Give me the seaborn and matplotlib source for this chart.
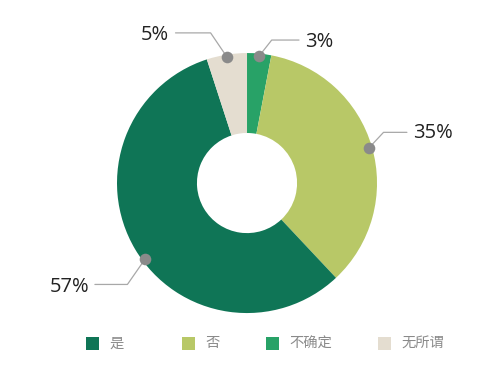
import matplotlib
matplotlib.use("Agg")
import matplotlib.pyplot as plt
from matplotlib.patches import Rectangle
import numpy as np
import seaborn as sns

# Survey answers and their shares (%)
categories = ["是", "否", "不确定", "无所谓"]
shares = [57, 35, 3, 5]
colors = ["#0f7556", "#b8c867", "#28a267", "#e4ddd0"]

# Wedges drawn clockwise from 12 o'clock in this order
draw_order = ["不确定", "否", "是", "无所谓"]

# Leader lines: dot position along the wedge (0..1), elbow / end points and
# text anchors in data units (outer radius = 1)
leaders = {
    "不确定": dict(pos=0.5, elbow=(0.19, 1.10), end=(0.40, 1.10), text=(0.45, 1.085), ha="left"),
    "否": dict(pos=0.5, elbow=(1.05, 0.39), end=(1.23, 0.39), text=(1.28, 0.385), ha="left"),
    "是": dict(pos=0.47, elbow=(-0.92, -0.78), end=(-1.17, -0.78), text=(-1.21, -0.80), ha="right"),
    "无所谓": dict(pos=0.5, elbow=(-0.28, 1.155), end=(-0.55, 1.155), text=(-0.60, 1.14), ha="right"),
}

# Legend entry left edges in figure pixels
legend_x = [86, 182, 266, 378]

sns.set_theme(style="white")
plt.rcParams["font.family"] = ["Noto Sans CJK SC", "DejaVu Sans"]

W, H = 500, 367
fig = plt.figure(figsize=(W / 100, H / 100), dpi=100)
ax = fig.add_axes([0, 0, 1, 1])

vals = [shares[categories.index(c)] for c in draw_order]
cols = [colors[categories.index(c)] for c in draw_order]

wedges, _ = ax.pie(vals, colors=cols, startangle=90, counterclock=False,
                   radius=1.0, wedgeprops=dict(width=0.615, edgecolor="none"))

ax.set_xlim(-1.90, 1.946)
ax.set_ylim(-1.415, 1.408)
ax.set_aspect("equal")
ax.axis("off")

for w, cat in zip(wedges, draw_order):
    ld = leaders[cat]
    # pie() with counterclock=False stores theta1 < theta2 going CCW; walk clockwise from theta2
    ang = np.deg2rad(w.theta2 - ld["pos"] * (w.theta2 - w.theta1))
    r = 0.98
    px, py = r * np.cos(ang), r * np.sin(ang)
    ax.plot([px, ld["elbow"][0], ld["end"][0]], [py, ld["elbow"][1], ld["end"][1]],
            color="#a8a8a8", lw=0.9, zorder=3)
    ax.scatter([px], [py], s=70, color="#8a8a8a", zorder=4, linewidths=0)
    ax.text(ld["text"][0], ld["text"][1], f"{shares[categories.index(cat)]}%",
            ha=ld["ha"], va="center", fontsize=14.5, color="#222222",
            family=["Open Sans", "DejaVu Sans"])

# Legend row along the bottom
box = 13
y_top = 337
for x0, c, lab in zip(legend_x, colors, categories):
    fig.add_artist(Rectangle((x0 / W, 1 - (y_top + box) / H), box / W, box / H,
                             transform=fig.transFigure, facecolor=c, edgecolor="none"))
    fig.text((x0 + box + 10) / W, 1 - (y_top + box / 2) / H, lab,
             ha="left", va="center", fontsize=10.3, color="#8a8a8a")

fig.savefig("out.png", dpi=100)
